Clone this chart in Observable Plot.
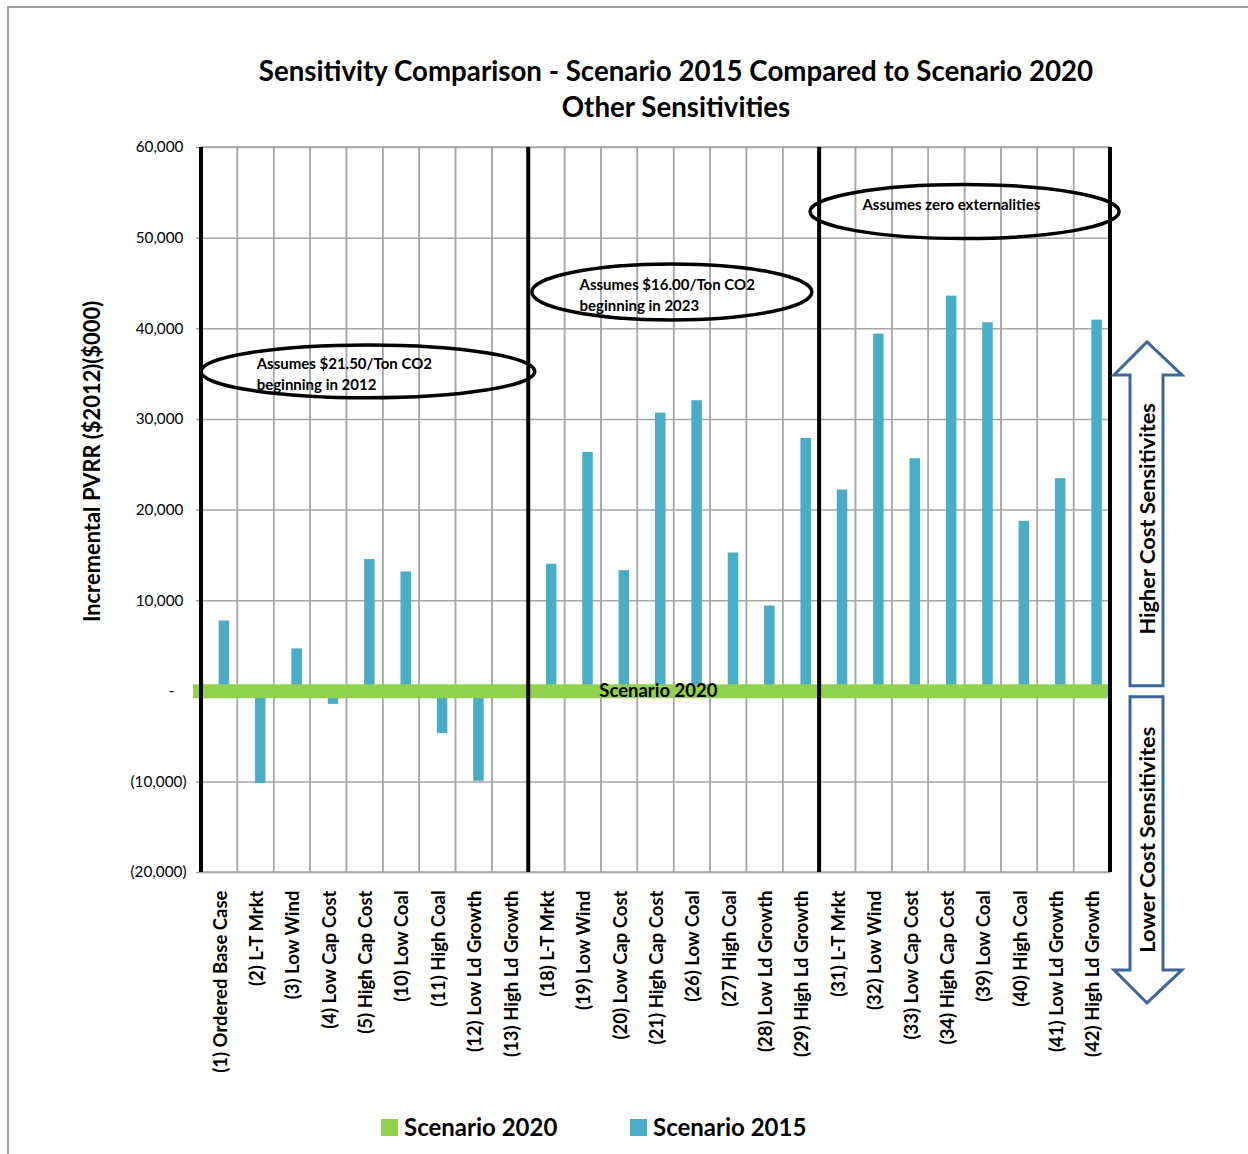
<!DOCTYPE html>
<html>
<head>
<meta charset="utf-8">
<script src="https://cdn.jsdelivr.net/npm/d3@7"></script>
<script src="https://cdn.jsdelivr.net/npm/@observablehq/plot@0.6"></script>
<style>
  html, body { margin: 0; padding: 0; background: #fff; }
  body { width: 1248px; height: 1154px; position: relative; overflow: hidden; font-family: Lato, "Open Sans", sans-serif; color: #000; }
  #chart { position: absolute; left: 0; top: 0; }
  #frame { position: absolute; left: 7px; top: 6px; right: -20px; bottom: -20px; border-top: 2px solid #9c9c9c; border-left: 2px solid #9c9c9c; pointer-events: none; }
  .title { position: absolute; left: 0; width: 1352px; text-align: center; font-weight: 700; font-size: 27.7px; line-height: 28px; white-space: nowrap; }
  .legend { position: absolute; top: 1113px; display: flex; align-items: center; font-weight: 700; font-size: 24px; line-height: 28px; white-space: nowrap; }
  .legend .sw { width: 17px; height: 17px; margin-right: 6px; }
</style>
</head>
<body>
<div class="title" style="top:57px">Sensitivity Comparison - Scenario 2015 Compared to Scenario 2020</div>
<div class="title" style="top:93px">Other Sensitivities</div>
<div id="chart"></div>
<div class="legend" style="left:381px"><div class="sw" style="background:#92d050"></div>Scenario 2020</div>
<div class="legend" style="left:630px"><div class="sw" style="background:#4bacc6"></div>Scenario 2015</div>
<div id="frame"></div>
<script>
// Sensitivity cases, in the order they appear along the axis
const categories = [
  "(1) Ordered Base Case", "(2) L-T Mrkt", "(3) Low Wind", "(4) Low Cap Cost", "(5) High Cap Cost",
  "(10) Low Coal", "(11) High Coal", "(12) Low Ld Growth", "(13) High Ld Growth",
  "(18) L-T Mrkt", "(19) Low Wind", "(20) Low Cap Cost", "(21) High Cap Cost",
  "(26) Low Coal", "(27) High Coal", "(28) Low Ld Growth", "(29) High Ld Growth",
  "(31) L-T Mrkt", "(32) Low Wind", "(33) Low Cap Cost", "(34) High Cap Cost",
  "(39) Low Coal", "(40) High Coal", "(41) Low Ld Growth", "(42) High Ld Growth"
];

// Incremental PVRR of Scenario 2015 relative to Scenario 2020 ($000)
const scenario2015 = [
  7750, -10180, 4670, -1450, 14530, 13160, -4670, -9930, 0,
  14010, 26360, 13310, 30690, 32060, 15250, 9410, 27900,
  22200, 39410, 25660, 43600, 40660, 18750, 23460, 40950
];

// Scenario 2020 is the reference level
const scenario2020 = 0;

// First case of each CO2 assumption group, and the last case overall
const groupFirst = ["(1) Ordered Base Case", "(18) L-T Mrkt", "(31) L-T Mrkt"];
const lastCase = "(42) High Ld Growth";

// Group notes
const noteLines = [
  ["Assumes $21.50/Ton CO2", "beginning in 2012"],
  ["Assumes $16.00/Ton CO2", "beginning in 2023"],
  ["Assumes zero externalities"]
];

// y axis ticks
const yTicks = [-20000, -10000, 0, 10000, 20000, 30000, 40000, 50000, 60000];

const BLUE = "#4bacc6", GREEN = "#92d050", GRID = "#a6a6a6", ARROW = "#3e6698";
const FONT = "Lato, 'Open Sans', sans-serif";
const W = 1248, H = 1100, ML = 201, MR = 138, MT = 147, MB = 228;
const step = (W - ML - MR) / categories.length;

const rows = categories.map((c, i) => ({category: c, value: scenario2015[i]}));
// accounting-style labels: thousands separators, negatives in parentheses, zero as a dash
const fmt = d => d === 0 ? "-" : d < 0 ? `(${d3.format(",")(-d)})` : d3.format(",")(d);

// Ellipse callouts, band label, cost-direction arrows and the y axis title
function overlay(index, scales, values, dimensions) {
  const {width, marginLeft, marginRight} = dimensions;
  const sx = s => marginLeft + s * (width - marginLeft - marginRight) / categories.length;
  const y = scales.y;
  const g = d3.create("svg:g").attr("font-family", FONT);

  // callouts: slot span, centre value, half-height in value units, text start slot
  const layout = [
    {a: 0, b: 9.18, v: 35240, h: 2920, t: 1.53},
    {a: 9.1, b: 16.8, v: 44000, h: 3090, t: 10.41},
    {a: 16.75, b: 25.25, v: 52880, h: 2980, t: 18.19}
  ];
  layout.forEach((L, i) => {
    const cx = (sx(L.a) + sx(L.b)) / 2, cy = y(L.v);
    g.append("ellipse")
      .attr("cx", cx).attr("cy", cy)
      .attr("rx", (sx(L.b) - sx(L.a)) / 2).attr("ry", y(L.v - L.h) - cy)
      .attr("fill", "none").attr("stroke", "#000").attr("stroke-width", 3.5);
    noteLines[i].forEach((line, k) => {
      g.append("text")
        .attr("x", sx(L.t)).attr("y", cy - 2 + k * 20.5)
        .attr("text-anchor", "start")
        .attr("font-size", 15).attr("font-weight", 700)
        .text(line);
    });
  });

  // series label on the Scenario 2020 band
  g.append("text")
    .attr("x", sx(12.58)).attr("y", y(scenario2020)).attr("dy", "0.35em")
    .attr("text-anchor", "middle").attr("font-size", 18.5).attr("font-weight", 700)
    .text("Scenario 2020");

  // block arrows to the right of the plot
  const R = width - marginRight;
  const xl = R + 20, xr = R + 53, hl = R + 4, hr = R + 72, xc = R + 37;
  const up = [[xc, y(38500)], [hr, y(34850)], [xr, y(34850)], [xr, y(scenario2020) - 5],
              [xl, y(scenario2020) - 5], [xl, y(34850)], [hl, y(34850)]];
  const down = [[xc, y(-34450)], [hr, y(-30800)], [xr, y(-30800)], [xr, y(scenario2020) + 6],
                [xl, y(scenario2020) + 6], [xl, y(-30800)], [hl, y(-30800)]];
  [up, down].forEach(p => {
    g.append("polygon").attr("points", p.map(d => d.join(",")).join(" "))
      .attr("fill", "#fff").attr("stroke", ARROW).attr("stroke-width", 3).attr("stroke-linejoin", "miter");
  });
  [["Higher Cost Sensitivites", 18970], ["Lower Cost Sensitivites", -16430]].forEach(([t, v]) => {
    g.append("text")
      .attr("transform", `translate(${xc},${y(v)}) rotate(-90)`)
      .attr("text-anchor", "middle").attr("dy", "0.35em")
      .attr("font-size", 21.8).attr("font-weight", 700)
      .text(t);
  });

  // y axis title
  g.append("text")
    .attr("transform", `translate(92,${y(25300)}) rotate(-90)`)
    .attr("text-anchor", "middle").attr("dy", "0.35em")
    .attr("font-size", 21.9).attr("font-weight", 700)
    .text("Incremental PVRR ($2012)($000)");
  return g.node();
}

const tickLabel = (ticks, dx) =>
  Plot.text(ticks, {y: d => d, text: fmt, frameAnchor: "left", textAnchor: "end", dx, fontSize: 15.3});

const chart = Plot.plot({
  width: W, height: H,
  marginLeft: ML, marginRight: MR, marginTop: MT, marginBottom: MB,
  style: {fontFamily: FONT, background: "transparent", overflow: "visible", color: "#000"},
  x: {domain: categories, padding: 0, round: false, axis: null},
  y: {domain: [-20000, 60000], axis: null},
  marks: [
    // vertical grid: one outlined cell per case
    Plot.barY(categories, {x: d => d, y1: -20000, y2: 60000, fill: "none", stroke: GRID, strokeWidth: 1.5}),
    // horizontal grid with outside tick stubs
    Plot.ruleY(yTicks, {stroke: GRID, strokeWidth: 1.5, insetLeft: -5}),
    // Scenario 2015 bars sit in the right half of each case slot
    Plot.barY(rows, {x: "category", y: "value", fill: BLUE, insetLeft: step / 2 - 0.5, insetRight: step / 2 - 10}),
    // Scenario 2020 reference band
    Plot.ruleY([scenario2020], {stroke: GREEN, strokeWidth: 14, insetLeft: -8}),
    // group separators
    Plot.barY(groupFirst, {x: d => d, y1: -20000, y2: 60000, fill: "#000", insetLeft: -2, insetRight: step - 2}),
    Plot.barY([lastCase], {x: d => d, y1: -20000, y2: 60000, fill: "#000", insetLeft: step - 2, insetRight: -2}),
    // y tick labels
    tickLabel(yTicks.filter(d => d > 0), -18),
    tickLabel(yTicks.filter(d => d === 0), -27),
    tickLabel(yTicks.filter(d => d < 0), -15),
    // case labels
    Plot.text(categories, {x: d => d, text: d => d, frameAnchor: "bottom", rotate: -90, textAnchor: "end",
                           dy: 18, dx: 7, fontSize: 18.5, fontWeight: "bold"}),
    overlay
  ]
});
document.getElementById("chart").append(chart);
</script>
</body>
</html>
